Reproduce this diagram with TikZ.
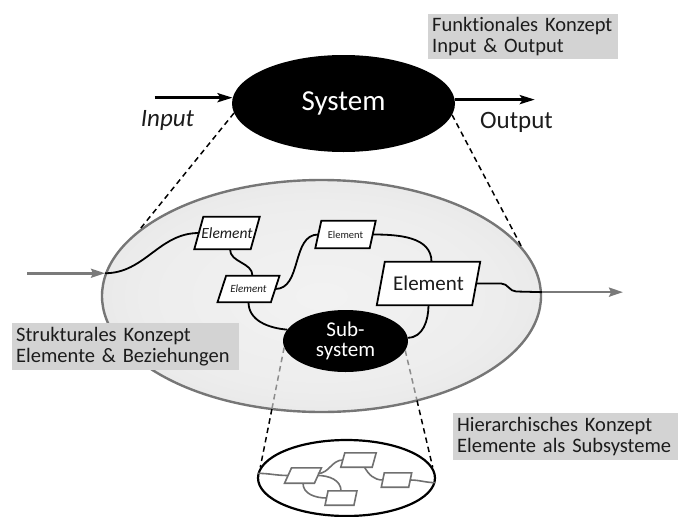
\documentclass[tikz,border=0pt]{standalone}
\usepackage{fontspec}
\setmainfont{Carlito}[Ligatures=CommonOff]
\usetikzlibrary{shapes.geometric,arrows.meta,calc,intersections}
\pgfdeclarelayer{back}\pgfdeclarelayer{mid}\pgfsetlayers{back,mid,main}
\definecolor{labgray}{RGB}{211,211,211}
\definecolor{txt}{RGB}{28,28,28}
\definecolor{rimgray}{RGB}{118,118,118}
\definecolor{arrgray}{RGB}{122,122,122}
\definecolor{dashgray}{RGB}{140,140,140}
\definecolor{innergray}{RGB}{112,112,112}
\pgfdeclareradialshading{bigshade}{\pgfpoint{0bp}{0bp}}{color(0bp)=(gray!10); color(20bp)=(gray!14); color(50bp)=(gray!30)}
\newcommand\parashape[3]{\begin{pgfonlayer}{mid}\draw[#3] ([xshift=#2pt]#1.north west) -- ([xshift=#2pt]#1.north east) -- ([xshift=-#2pt]#1.south east) -- ([xshift=-#2pt]#1.south west) -- cycle;\end{pgfonlayer}}
\tikzset{
 lab/.style={fill=labgray, text=txt, align=left, inner xsep=4pt, inner ysep=0pt, anchor=north west, font=\fontsize{20.5}{21}\selectfont},
 blackell/.style={ellipse, fill=black, text=white, inner sep=0pt},
 elem/.style={inner sep=0pt, text=txt},
 elborder/.style={draw=black, line width=1.8pt, fill=white},
 conn/.style={draw=black, line width=1.8pt},
 ioarrow/.style={line width=3pt, -{Stealth[length=15pt,width=9pt,inset=3pt]}},
 grayarrow/.style={draw=arrgray, line width=2.6pt, -{Stealth[length=14pt,width=9pt,inset=2pt]}},
 dashline/.style={dash pattern=on 5.5pt off 4pt, line width=1.5pt},
 sbox/.style={inner sep=0pt},
 sborder/.style={draw=innergray, line width=1.6pt, fill=white},
 sconn/.style={draw=innergray, line width=1.6pt},
}
\begin{document}
\begin{tikzpicture}[x=1pt,y=1pt]
\useasboundingbox (0,0) rectangle (678,-517);
% big ellipse and small ellipse
\begin{pgfonlayer}{back}
\node[ellipse, minimum width=439, minimum height=232, inner sep=0pt, draw=rimgray, line width=2.4pt, shade, shading=bigshade] (big) at (321.5,-296) {};
\node[ellipse, minimum width=177, minimum height=76, inner sep=0pt, draw=black, line width=2.2pt, fill=white] (small) at (346.5,-478) {};
\end{pgfonlayer}
% labels
\node[lab, text width=182pt, minimum height=45pt] (fk) at (428,-14) {Funktionales Konzept\\Input \& Output};
\node[lab, text width=219pt, minimum height=47pt] (sk) at (12,-323) {Strukturales Konzept\\Elemente \& Beziehungen};
\node[lab, text width=217pt, minimum height=47pt] (hk) at (453,-413) {Hierarchisches Konzept\\Elemente als Subsysteme};
% system
\node[blackell, minimum width=223, minimum height=97, font=\fontsize{29}{29}\selectfont] (sys) at (343.5,-103.5) {System};
\node[font=\itshape\fontsize{25}{25}\selectfont, text=txt] (inp) at (167.5,-120) {Input};
\node[font=\fontsize{25}{25}\selectfont, text=txt] (outp) at (516.5,-122) {Output};
\coordinate (inSrc) at ($(sys.177)+(-78,0)$);
\coordinate (outDst) at ($(sys.2)+(80,0)$);
\draw[ioarrow] (inSrc) -- (sys.177);
\draw[ioarrow] (sys.2) -- (outDst);
\draw[dashline] (sys.185) -- (big.160);
\draw[dashline] (sys.354) -- (big.14);
% elements
\node[elem, minimum width=56, minimum height=32, font=\itshape\fontsize{15.5}{15.5}\selectfont] (e1) at (227,-233) {Element};
\parashape{e1}{4.5}{elborder}
\node[elem, minimum width=54, minimum height=27, font=\fontsize{10.5}{10.5}\selectfont] (e2) at (345.5,-234.5) {Element};
\parashape{e2}{3}{elborder}
\node[elem, minimum width=53, minimum height=26, font=\itshape\fontsize{11}{11}\selectfont] (e3) at (248.5,-289) {Element};
\parashape{e3}{4.3}{elborder}
\node[elem, minimum width=95, minimum height=43, font=\fontsize{21}{21}\selectfont] (e4) at (428.5,-283.5) {Element};
\parashape{e4}{4}{elborder}
\node[blackell, minimum width=125, minimum height=62, align=center, font=\fontsize{21}{20}\selectfont] (sub) at (345.5,-341) {Sub-\\system};
% connectors
\coordinate (inL) at (big.174);
\coordinate (inSrc2) at ($(inL)+(-78,0)$);
\draw[grayarrow] (inSrc2) -- (inL);
\draw[conn] (inL) to[out=0,in=180] (e1.west);
\draw[conn] ([xshift=3pt]e1.south) to[out=-90,in=90] ([xshift=4pt]e3.north);
\draw[conn] (e3.east) to[out=0,in=180] (e2.west);
\draw[conn] (e2.east) to[out=0,in=90] ([xshift=3pt]e4.north);
\draw[conn] (e3.south) to[out=-90,in=175] (sub.169);
\draw[conn] (e4.south) to[out=-90,in=0] (sub.3);
\coordinate (outR) at (big.1);
\coordinate (outDst2) at ($(outR)+(81,0)$);
\draw[conn] (e4.east) -- ++(25,0) to[out=0,in=180] ++(15,-8) -- (outR);
\draw[grayarrow] (outR) -- (outDst2);
% dashed lines from subsystem
\path[name path=bigE] (big.center) ellipse [x radius=219.5, y radius=116];
\path[name path=dl] (sub.186) -- (small.173);
\path[name path=dr] (sub.351) -- (small.7);
\path[name intersections={of=bigE and dl, by=xl}];
\path[name intersections={of=bigE and dr, by=xr}];
\draw[dashline, draw=dashgray] (sub.186) -- (xl);
\draw[dashline, draw=dashgray] (sub.351) -- (xr);
\draw[dashline] (xl) -- (small.173);
\draw[dashline] (xr) -- (small.7);
% inner subsystem
\node[sbox, minimum width=29.5, minimum height=15] (s1) at (303,-475.5) {};
\parashape{s1}{3.5}{sborder}
\node[sbox, minimum width=31, minimum height=14] (s2) at (358.5,-460) {};
\parashape{s2}{2}{sborder}
\node[sbox, minimum width=27, minimum height=14] (s3) at (396.5,-480) {};
\parashape{s3}{1.5}{sborder}
\node[sbox, minimum width=28.5, minimum height=14] (s4) at (341,-498) {};
\parashape{s4}{1.5}{sborder}
\draw[sconn] (small.177) to[out=0,in=180] (s1.west);
\draw[sconn] ([yshift=2pt]s1.east) to[out=0,in=180] (s2.west);
\draw[sconn] (s1.east) to[out=0,in=90] (s4.north);
\draw[sconn] (s1.south) to[out=-90,in=180] (s4.west);
\draw[sconn] ([xshift=6pt]s2.south) to[out=-60,in=180] (s3.west);
\draw[sconn] (s3.east) to[out=0,in=180] (small.-3);
\end{tikzpicture}
\end{document}
